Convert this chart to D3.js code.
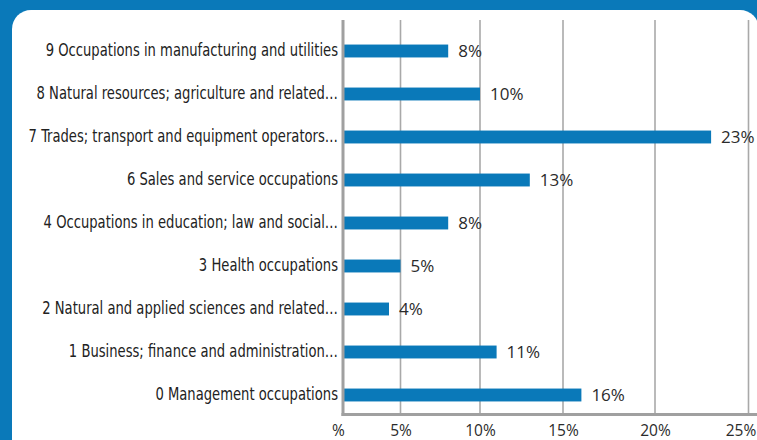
<!DOCTYPE html>
<html>
<head>
<meta charset="utf-8">
<script src="https://cdn.jsdelivr.net/npm/d3@7"></script>
<style>
  html, body { margin: 0; padding: 0; background: #0a79b9; }
  svg { display: block; }
</style>
</head>
<body>
<svg id="chart" width="757" height="440"></svg>
<script>
const categories = [
  "9 Occupations in manufacturing and utilities",
  "8 Natural resources; agriculture and related…",
  "7 Trades; transport and equipment operators…",
  "6 Sales and service occupations",
  "4 Occupations in education; law and social…",
  "3 Health occupations",
  "2 Natural and applied sciences and related…",
  "1 Business; finance and administration…",
  "0 Management occupations"
];
const values = [8, 10, 23, 13, 8, 5, 4, 11, 16];
const tickValues = [0, 5, 10, 15, 20, 25];

(function () {
const W = 757, H = 440;
const blue = "#0a79b9";
const svg = d3.select("#chart");

svg.append("rect").attr("width", W).attr("height", H).attr("fill", blue);
svg.append("rect").attr("x", 12).attr("y", 10).attr("width", 747).attr("height", 450)
  .attr("rx", 19).attr("fill", "#ffffff");

// the reference's gridlines are unevenly spaced; map each tick to its drawn position
const x = d3.scaleLinear().domain(tickValues).range([343, 400.5, 480, 563, 655, 748.5]);
const y = d3.scaleBand().domain(categories).range([29.5, 416.5])
  .paddingInner(0.7).paddingOuter(0.35);

const plotTop = 20, plotBottom = 414.5;

// gridlines
svg.append("g").selectAll("line").data(tickValues.slice(1)).join("line")
  .attr("x1", d => x(d)).attr("x2", d => x(d))
  .attr("y1", plotTop).attr("y2", plotBottom)
  .attr("stroke", "#a9a9a9").attr("stroke-width", 1.6);

// bars
svg.append("g").selectAll("rect").data(values).join("rect")
  .attr("x", x(0))
  .attr("y", (d, i) => y(categories[i]))
  .attr("width", d => x(d) - x(0))
  .attr("height", y.bandwidth())
  .attr("fill", blue);

// value labels
svg.append("g").selectAll("text").data(values).join("text")
  .attr("x", d => x(d) + 10)
  .attr("y", (d, i) => y(categories[i]) + y.bandwidth() / 2)
  .attr("dy", "0.36em")
  .attr("font-family", "'Open Sans', 'Noto Sans', sans-serif")
  .attr("font-size", 17)
  .attr("fill", "#2b2b2b")
  .text(d => d + "%");

// axis lines
svg.append("line").attr("x1", x(0)).attr("x2", x(0)).attr("y1", plotTop).attr("y2", plotBottom + 1.5)
  .attr("stroke", "#a0a0a0").attr("stroke-width", 3);
svg.append("line").attr("x1", x(0) - 1.5).attr("x2", W).attr("y1", plotBottom).attr("y2", plotBottom)
  .attr("stroke", "#a0a0a0").attr("stroke-width", 3);

// category labels (condensed look)
const yAxis = d3.axisLeft(y).tickSize(0).tickPadding(0);
const gy = svg.append("g").attr("transform", "translate(338,0) scale(0.86,1)").call(yAxis);
gy.select(".domain").remove();
gy.selectAll("text")
  .attr("font-family", "'DejaVu Sans Condensed', 'Liberation Sans Narrow', sans-serif")
  .attr("font-size", 17)
  .attr("fill", "#222");

// bottom tick labels
const xAxis = d3.axisBottom(x).tickValues(tickValues).tickSize(0).tickPadding(0)
  .tickFormat(d => d === 0 ? "%" : d + "%");
const gx = svg.append("g").attr("transform", `translate(0,${plotBottom + 10})`).call(xAxis);
gx.select(".domain").remove();
gx.selectAll("text")
  .attr("font-family", "'Open Sans', 'Noto Sans', sans-serif")
  .attr("font-size", 15.5)
  .attr("fill", "#2b2b2b");
gx.selectAll(".tick").filter(d => d === 0).select("text").attr("dx", -5);
gx.selectAll(".tick").filter(d => d === 25).select("text").attr("dx", -8);
})();
</script>
</body>
</html>
